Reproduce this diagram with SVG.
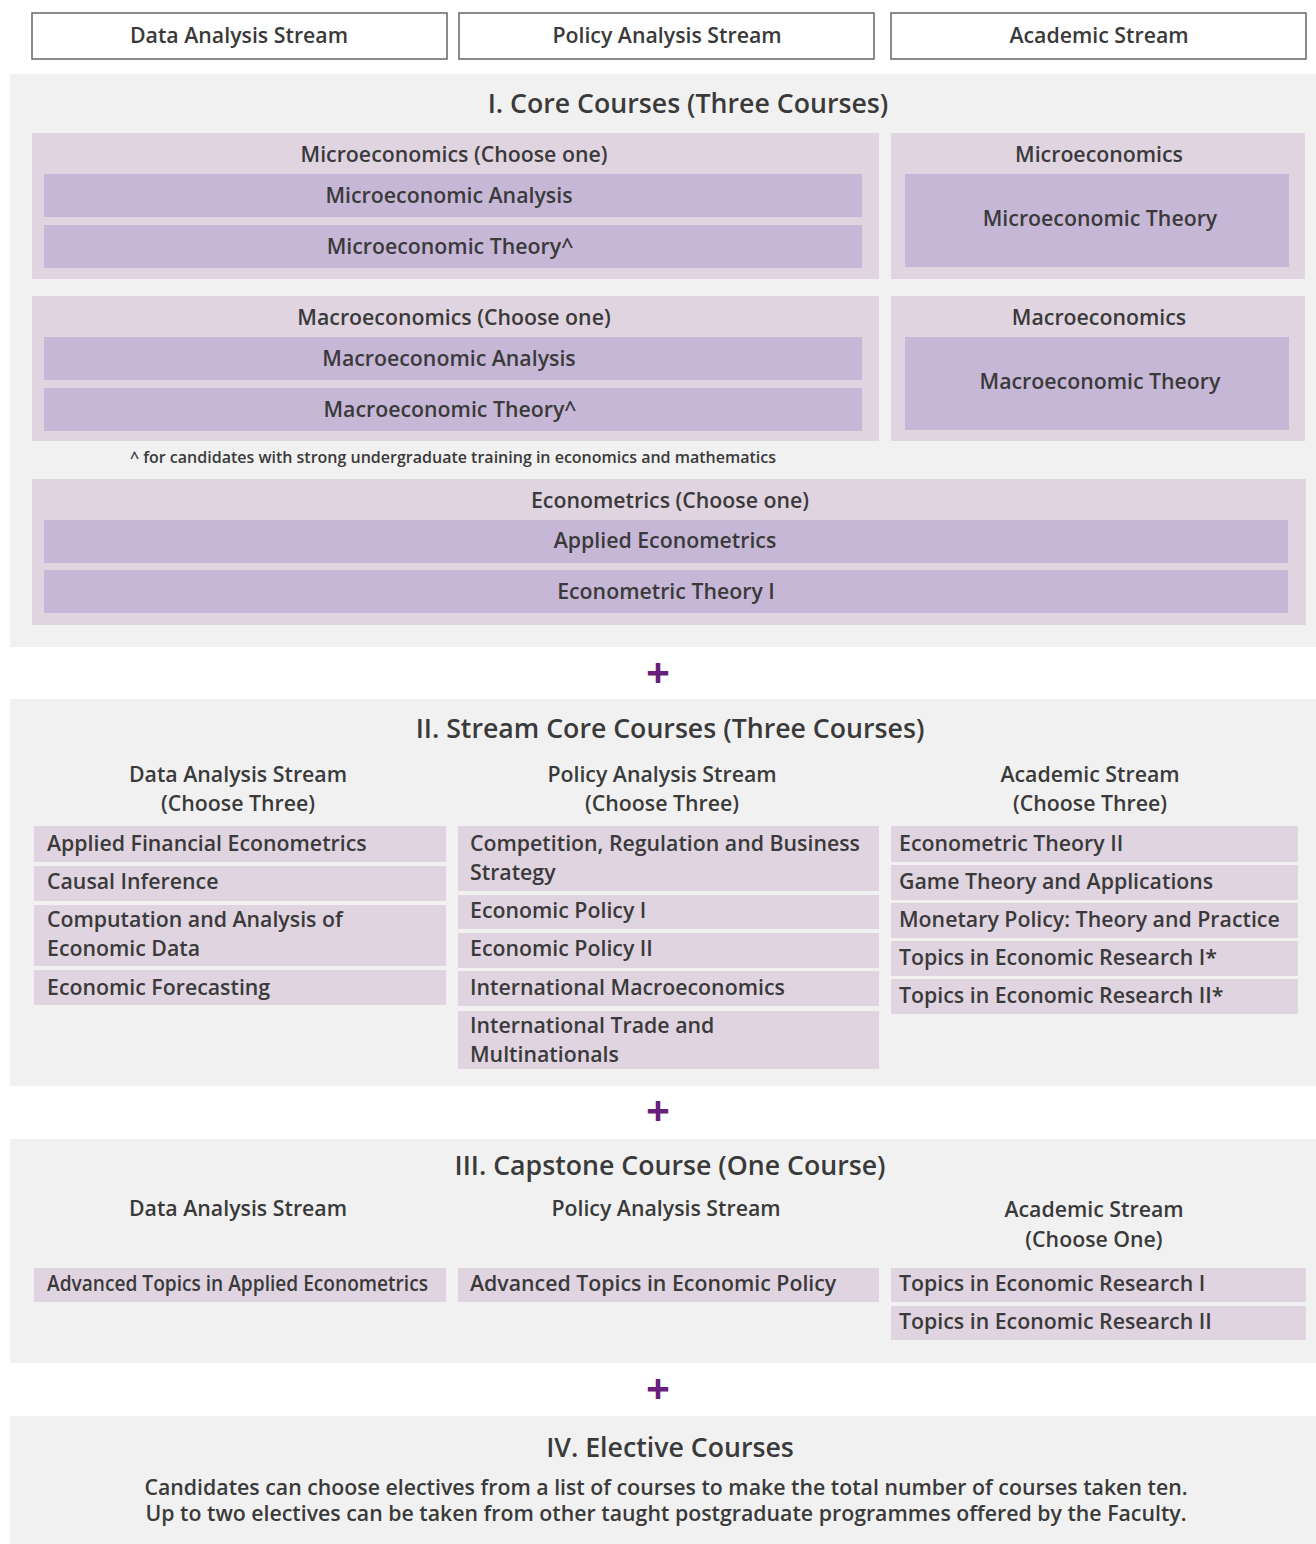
<svg xmlns="http://www.w3.org/2000/svg" width="1316" height="1544" viewBox="0 0 1316 1544">
<style>
text{font-family:"Open Sans","Noto Sans","Liberation Sans",sans-serif;font-weight:600;fill:#3a3a3a}
.c{text-anchor:middle}
.hd{font-size:21.3px}
.tt{font-size:26.7px}
.rw{font-size:21.3px}
.sm{font-size:16px}
.el{font-size:21.3px}
.bg{fill:#f1f1f1}
.o{fill:#e0d4e1}
.i{fill:#c7b7d7}
.r{fill:#e0d4e1}
.hb{fill:#fff;stroke:#666;stroke-width:1.5}
.plus{font-size:42px;font-weight:700;fill:#6b1f7c}
</style>
<rect width="1316" height="1544" fill="#fff"/>
<g id="stream-headers">
<rect class="hb" x="32" y="13" width="415" height="46"/>
<text class="hd c" x="239" y="43">Data Analysis Stream</text>
<rect class="hb" x="459" y="13" width="415" height="46"/>
<text class="hd c" x="667" y="43">Policy Analysis Stream</text>
<rect class="hb" x="891" y="13" width="415" height="46"/>
<text class="hd c" x="1099" y="43">Academic Stream</text>
</g>
<g id="section-1">
<rect class="bg" x="10" y="74" width="1306" height="573"/>
<text class="tt c" x="688" y="113">I. Core Courses (Three Courses)</text>
<g id="micro-choose">
<rect class="o" x="32" y="133" width="847" height="146"/>
<text class="hd c" x="454" y="162">Microeconomics (Choose one)</text>
<rect class="i" x="44" y="174" width="818" height="43"/>
<text class="hd c" x="449" y="203">Microeconomic Analysis</text>
<rect class="i" x="44" y="225" width="818" height="43"/>
<text class="hd c" x="450" y="254">Microeconomic Theory^</text>
</g>
<g id="micro-academic">
<rect class="o" x="891" y="133" width="414" height="146"/>
<text class="hd c" x="1099" y="162">Microeconomics</text>
<rect class="i" x="905" y="174" width="384" height="93"/>
<text class="hd c" x="1100" y="226">Microeconomic Theory</text>
</g>
<g id="macro-choose">
<rect class="o" x="32" y="296" width="847" height="145"/>
<text class="hd c" x="454" y="325">Macroeconomics (Choose one)</text>
<rect class="i" x="44" y="337" width="818" height="43"/>
<text class="hd c" x="449" y="366">Macroeconomic Analysis</text>
<rect class="i" x="44" y="388" width="818" height="43"/>
<text class="hd c" x="450" y="417">Macroeconomic Theory^</text>
</g>
<g id="macro-academic">
<rect class="o" x="891" y="296" width="414" height="145"/>
<text class="hd c" x="1099" y="325">Macroeconomics</text>
<rect class="i" x="905" y="337" width="384" height="93"/>
<text class="hd c" x="1100" y="389">Macroeconomic Theory</text>
</g>
<text class="sm c" x="453" y="463">^ for candidates with strong undergraduate training in economics and mathematics</text>
<g id="econometrics">
<rect class="o" x="32" y="479" width="1274" height="146"/>
<text class="hd c" x="670" y="508">Econometrics (Choose one)</text>
<rect class="i" x="44" y="520" width="1244" height="43"/>
<text class="hd c" x="665" y="548">Applied Econometrics</text>
<rect class="i" x="44" y="570" width="1244" height="43"/>
<text class="hd c" x="666" y="599">Econometric Theory I</text>
</g>
</g>
<g id="connectors">
<text class="plus c" x="658" y="688">+</text>
<text class="plus c" x="658" y="1126">+</text>
<text class="plus c" x="658" y="1404">+</text>
</g>
<g id="section-2">
<rect class="bg" x="10" y="699" width="1306" height="387"/>
<text class="tt c" x="670" y="738">II. Stream Core Courses (Three Courses)</text>
<text class="hd c" x="238" y="782">Data Analysis Stream</text>
<text class="hd c" x="238" y="811">(Choose Three)</text>
<text class="hd c" x="662" y="782">Policy Analysis Stream</text>
<text class="hd c" x="662" y="811">(Choose Three)</text>
<text class="hd c" x="1090" y="782">Academic Stream</text>
<text class="hd c" x="1090" y="811">(Choose Three)</text>
<g id="data-stream-core">
<rect class="r" x="34" y="826" width="412" height="36"/>
<text class="rw" x="47" y="851">Applied Financial Econometrics</text>
<rect class="r" x="34" y="866" width="412" height="35"/>
<text class="rw" x="47" y="889">Causal Inference</text>
<rect class="r" x="34" y="905" width="412" height="61"/>
<text class="rw" x="47" y="927">Computation and Analysis of</text>
<text class="rw" x="47" y="956">Economic Data</text>
<rect class="r" x="34" y="970" width="412" height="35"/>
<text class="rw" x="47" y="995">Economic Forecasting</text>
</g>
<g id="policy-stream-core">
<rect class="r" x="458" y="826" width="421" height="65"/>
<text class="rw" x="470" y="851">Competition, Regulation and Business</text>
<text class="rw" x="470" y="880">Strategy</text>
<rect class="r" x="458" y="895" width="421" height="34"/>
<text class="rw" x="470" y="918">Economic Policy I</text>
<rect class="r" x="458" y="933" width="421" height="35"/>
<text class="rw" x="470" y="956">Economic Policy II</text>
<rect class="r" x="458" y="971" width="421" height="35"/>
<text class="rw" x="470" y="995">International Macroeconomics</text>
<rect class="r" x="458" y="1011" width="421" height="58"/>
<text class="rw" x="470" y="1033">International Trade and</text>
<text class="rw" x="470" y="1062">Multinationals</text>
</g>
<g id="academic-stream-core">
<rect class="r" x="891" y="826" width="407" height="36"/>
<text class="rw" x="899" y="851">Econometric Theory II</text>
<rect class="r" x="891" y="865" width="407" height="35"/>
<text class="rw" x="899" y="889">Game Theory and Applications</text>
<rect class="r" x="891" y="903" width="407" height="35"/>
<text class="rw" x="899" y="927">Monetary Policy: Theory and Practice</text>
<rect class="r" x="891" y="941" width="407" height="35"/>
<text class="rw" x="899" y="965">Topics in Economic Research I*</text>
<rect class="r" x="891" y="979" width="407" height="35"/>
<text class="rw" x="899" y="1003">Topics in Economic Research II*</text>
</g>
</g>
<g id="section-3">
<rect class="bg" x="10" y="1139" width="1306" height="224"/>
<text class="tt c" x="670" y="1175">III. Capstone Course (One Course)</text>
<text class="hd c" x="238" y="1216">Data Analysis Stream</text>
<text class="hd c" x="666" y="1216">Policy Analysis Stream</text>
<text class="hd c" x="1094" y="1217">Academic Stream</text>
<text class="hd c" x="1094" y="1247">(Choose One)</text>
<g id="capstone-data">
<rect class="r" x="34" y="1268" width="412" height="34"/>
<text class="rw" x="47" y="1291" textLength="381" lengthAdjust="spacingAndGlyphs">Advanced Topics in Applied Econometrics</text>
</g>
<g id="capstone-policy">
<rect class="r" x="458" y="1268" width="421" height="34"/>
<text class="rw" x="470" y="1291">Advanced Topics in Economic Policy</text>
</g>
<g id="capstone-academic">
<rect class="r" x="891" y="1268" width="415" height="34"/>
<text class="rw" x="899" y="1291">Topics in Economic Research I</text>
<rect class="r" x="891" y="1306" width="415" height="34"/>
<text class="rw" x="899" y="1329">Topics in Economic Research II</text>
</g>
</g>
<g id="section-4">
<rect class="bg" x="10" y="1416" width="1306" height="128"/>
<text class="tt c" x="670" y="1457">IV. Elective Courses</text>
<text class="el c" x="666" y="1495">Candidates can choose electives from a list of courses to make the total number of courses taken ten.</text>
<text class="el c" x="666" y="1521">Up to two electives can be taken from other taught postgraduate programmes offered by the Faculty.</text>
</g>
</svg>
